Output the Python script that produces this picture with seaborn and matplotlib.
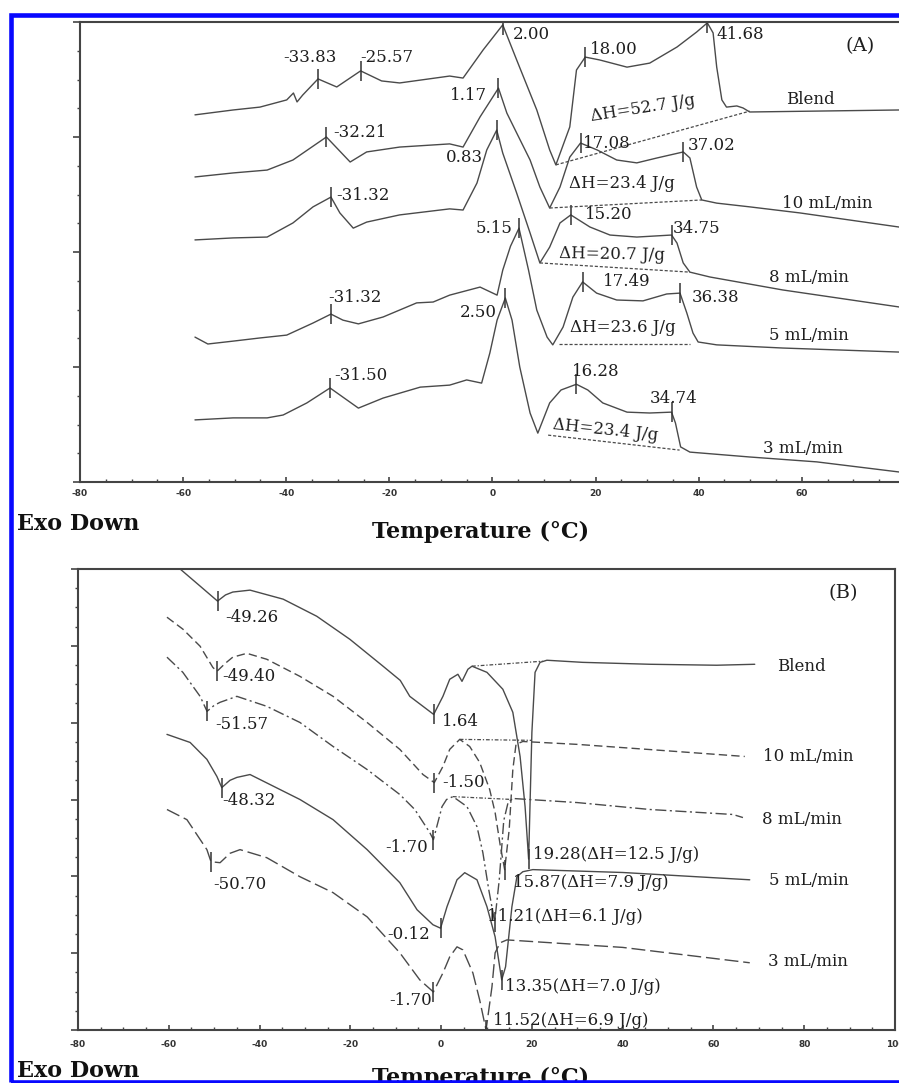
import numpy as np
import matplotlib
matplotlib.use("Agg")
import matplotlib.pyplot as plt
from matplotlib.patches import Rectangle
from matplotlib.ticker import MultipleLocator, FuncFormatter
import seaborn as sns

# ---------------- panel A : heating scans (heat flow, a.u., offset) ----------------
a_blend_t = [-57.7, -50.3, -45.1, -39.9, -38.6, -37.9, -36.8, -33.83, -30.2, -25.57, -21.5, -18.0,
             -8.3, -5.7, -1.8, 2.0, 4.7, 8.6, 11.1, 12.3, 15.0, 16.3, 18.0, 20.8, 26.1, 30.5, 35.8,
             39.6, 41.68, 42.8, 43.5, 44.5, 45.4, 47.4, 48.6, 49.9, 79.0, 100.0]
a_blend_v = [12.77, 12.94, 13.04, 13.29, 13.53, 13.22, 13.46, 14.02, 13.74, 14.30, 13.95, 13.88,
             14.12, 14.05, 15.03, 15.90, 14.68, 12.94, 11.55, 11.03, 12.35, 14.33, 14.78, 14.68, 14.43,
             14.57, 15.13, 15.65, 15.97, 15.62, 14.43, 13.29, 13.04, 13.08, 13.01, 12.87, 12.94, 12.94]

a_10_t = [-57.7, -50.3, -43.7, -38.7, -32.21, -27.6, -24.4, -18.0, -8.3, -5.7, -2.4, 1.17, 2.8, 4.7,
          7.3, 9.2, 11.1, 13.1, 15.0, 17.08, 20.3, 24.1, 28.0, 31.9, 37.02, 38.3, 39.6, 40.6, 43.5,
          49.9, 59.6, 78.8, 100.0]
a_10_v = [10.61, 10.75, 10.85, 11.20, 12.00, 11.13, 11.48, 11.65, 11.76, 11.65, 12.70, 13.70, 12.83,
          12.14, 11.20, 10.26, 9.53, 10.26, 11.30, 11.79, 11.55, 11.20, 11.10, 11.27, 11.48, 11.27,
          10.26, 9.81, 9.70, 9.57, 9.36, 8.87, 8.35]

a_8_t = [-57.7, -50.3, -43.7, -38.7, -34.8, -31.32, -29.6, -27.0, -24.4, -18.0, -8.3, -5.7, -3.0,
         -1.1, 0.83, 2.0, 4.7, 7.3, 9.2, 11.1, 13.1, 15.2, 18.9, 22.8, 28.0, 34.75, 35.8, 37.0, 38.3,
         42.2, 56.3, 78.8, 100.0]
a_8_v = [8.42, 8.49, 8.52, 9.01, 9.57, 9.91, 9.36, 8.83, 9.04, 9.29, 9.50, 9.46, 10.40, 11.55, 12.24,
         11.44, 10.05, 8.66, 7.62, 8.17, 9.01, 9.29, 8.87, 8.59, 8.52, 8.59, 8.31, 7.62, 7.30, 7.13,
         6.68, 6.09, 5.50]

a_5_t = [-57.7, -55.2, -50.3, -45.1, -39.9, -34.8, -31.32, -29.0, -26.0, -21.2, -14.7, -11.5, -8.3,
         -2.4, 0.9, 2.0, 3.5, 5.15, 7.0, 8.6, 10.6, 11.7, 13.7, 15.6, 17.49, 20.2, 24.1, 29.2, 33.8,
         36.38, 37.7, 38.9, 39.9, 43.5, 56.3, 78.8, 100.0]
a_5_v = [5.04, 4.80, 4.90, 5.01, 5.11, 5.53, 5.84, 5.63, 5.50, 5.74, 6.23, 6.26, 6.50, 6.78, 6.50,
         7.37, 8.20, 8.83, 7.37, 5.98, 5.04, 4.77, 5.39, 6.43, 6.96, 6.57, 6.33, 6.30, 6.54, 6.57,
         5.88, 5.18, 4.87, 4.77, 4.66, 4.52, 4.40]

a_3_t = [-57.7, -50.3, -43.7, -40.6, -36.0, -31.5, -26.0, -21.2, -14.0, -8.3, -5.0, -2.1, -0.5, 0.9,
         2.5, 3.8, 5.3, 7.3, 8.8, 11.1, 13.3, 16.28, 18.5, 21.4, 26.1, 30.5, 34.74, 35.5, 36.5, 38.3,
         49.9, 62.9, 78.8, 100.0]
a_3_v = [2.16, 2.23, 2.23, 2.33, 2.75, 3.27, 2.57, 2.92, 3.30, 3.37, 3.55, 3.44, 4.49, 5.63, 6.40,
         5.63, 4.00, 2.40, 1.70, 2.75, 3.20, 3.40, 3.20, 2.75, 2.43, 2.40, 2.43, 2.05, 1.22, 1.04,
         0.87, 0.70, 0.35, 0.02]

# integration baselines (start / end)
a_base_t0 = [12.3, 11.1, 9.2, 13.0, 10.8]
a_base_t1 = [49.9, 40.6, 38.3, 38.3, 36.3]
a_base_v0 = [11.03, 9.53, 7.62, 4.80, 1.63]
a_base_v1 = [12.90, 9.81, 7.30, 4.80, 1.11]

# peak temperatures marked on each curve
a_marks = [[-33.83, -25.57, 2.0, 18.0, 41.68], [-32.21, 1.17, 17.08, 37.02],
           [-31.32, 0.83, 15.2, 34.75], [-31.32, 5.15, 17.49, 36.38], [-31.5, 2.5, 16.28, 34.74]]

a_txt = ["-33.83", "-25.57", "2.00", "18.00", "41.68", "-32.21", "1.17", "17.08", "37.02",
         "-31.32", "0.83", "15.20", "34.75", "-31.32", "5.15", "17.49", "36.38",
         "-31.50", "2.50", "16.28", "34.74"]
a_txt_x = [-40.6, -25.7, 4.0, 18.9, 43.5, -30.9, -1.1, 17.5, 37.9, -30.2, -1.9, 17.9, 35.0,
           -31.9, 3.8, 21.4, 38.7, -30.6, 0.9, 15.4, 30.5]
a_txt_y = [14.78, 14.78, 15.55, 15.03, 15.58, 12.14, 13.43, 11.76, 11.69, 9.98, 11.27, 9.29, 8.83,
           6.43, 8.83, 6.96, 6.40, 3.72, 5.88, 3.83, 2.92]
a_txt_ha = ["left"] * 6 + ["right"] + ["left"] * 3 + ["right"] + ["left"] * 3 + ["right"] + \
           ["left"] * 3 + ["right"] + ["left"] * 2

a_dh = ["ΔH=52.7 J/g", "ΔH=23.4 J/g", "ΔH=20.7 J/g", "ΔH=23.6 J/g", "ΔH=23.4 J/g"]
a_dh_x = [29.2, 25.1, 23.2, 25.3, 22.0]
a_dh_y = [13.01, 10.37, 7.90, 5.39, 1.81]
a_dh_rot = [9, 0, -1, 0, -6]

a_names = ["Blend", "10 mL/min", "8 mL/min", "5 mL/min", "3 mL/min"]
a_name_x = [61.6, 65.0, 61.4, 61.4, 60.2]
a_name_y = [13.29, 9.67, 7.13, 5.08, 1.18]

# ---------------- panel B : cooling scans ----------------
b_blend_t = [-58.2, -57.5, -53.1, -49.26, -47.5, -45.9, -42.1, -34.8, -27.4, -20.1, -12.8, -9.0,
             -6.9, -1.64, 0.4, 1.9, 3.7, 4.6, 5.9, 6.8, 10.1, 13.6, 15.8, 17.4, 18.5, 19.28, 20.0,
             20.7, 21.8, 23.3, 31.2, 46.0, 60.7, 69.1]
b_blend_v = [24.4, 24.0, 23.11, 22.33, 22.65, 22.80, 22.90, 22.43, 21.54, 20.34, 18.94, 18.2, 17.37,
             16.43, 17.37, 18.26, 18.52, 18.15, 18.78, 18.94, 18.62, 17.74, 16.54, 14.24, 11.63, 8.90,
             15.49, 18.62, 19.14, 19.25, 19.14, 19.04, 18.99, 19.04]

b_10_t = [-60.4, -56.9, -53.1, -50.3, -49.4, -47.5, -45.9, -42.8, -38.4, -31.1, -23.8, -16.3, -9.1,
          -4.0, -1.5, 0.4, 1.9, 4.1, 6.3, 8.5, 10.7, 11.9, 13.0, 14.0, 15.0, 15.8, 16.5, 18.0, 30.0,
          46.0, 66.9]
b_10_v = [21.49, 20.87, 19.98, 18.88, 18.67, 19.10, 19.41, 19.61, 19.30, 18.41, 17.37, 16.01, 14.61,
          13.30, 12.88, 13.72, 14.61, 15.13, 14.76, 13.93, 12.52, 11.32, 9.65, 8.35, 10.43, 13.56,
          14.87, 15.02, 14.87, 14.60, 14.24]

b_8_t = [-60.4, -56.9, -53.1, -51.57, -50.0, -48.7, -45.0, -38.4, -31.1, -23.8, -16.3, -9.1, -5.8,
         -2.5, -1.7, 0.2, 1.2, 2.6, 5.7, 7.9, 9.2, 10.5, 11.8, 12.8, 13.8, 14.8, 16.0, 30.0, 46.0,
         64.3, 66.5]
b_8_v = [19.41, 18.62, 17.37, 16.59, 16.90, 17.06, 17.37, 16.85, 16.01, 14.76, 13.56, 12.26, 11.48,
         10.28, 9.91, 11.63, 12.00, 12.15, 11.63, 10.59, 9.23, 7.30, 5.63, 7.80, 10.90, 11.89, 12.05,
         11.84, 11.48, 11.22, 11.06]

b_5_t = [-60.4, -55.3, -51.6, -49.4, -48.32, -46.5, -45.0, -42.1, -31.1, -23.8, -16.3, -9.1, -5.3,
         -1.8, -0.12, 1.3, 3.5, 5.2, 7.9, 10.1, 11.9, 12.9, 13.35, 14.2, 15.6, 16.7, 18.0, 20.2,
         40.0, 68.0]
b_5_v = [15.39, 14.97, 14.09, 13.20, 12.62, 13.00, 13.15, 13.30, 12.00, 10.95, 9.39, 7.67, 6.26,
         5.48, 5.30, 6.42, 7.82, 8.19, 7.82, 6.42, 4.85, 3.29, 2.61, 3.29, 6.42, 7.98, 8.24, 8.35,
         8.20, 7.82]

b_3_t = [-60.4, -56.0, -51.6, -50.7, -48.7, -46.5, -44.3, -38.4, -31.1, -23.8, -16.3, -9.1, -4.7,
         -1.7, 0.4, 1.9, 3.5, 4.8, 7.0, 8.5, 9.9, 11.2, 11.9, 13.0, 14.5, 40.0, 68.0]
b_3_v = [11.48, 10.95, 9.39, 8.76, 8.71, 9.20, 9.39, 8.97, 7.98, 7.15, 5.89, 4.02, 2.61, 1.98, 2.97,
         3.81, 4.33, 4.17, 2.97, 1.56, 0.0, 2.24, 4.02, 4.54, 4.69, 4.30, 3.50]

b_base_t0 = [6.8, 4.1, 2.6]
b_base_t1 = [22.4, 20.0, 15.8]
b_base_v0 = [18.94, 15.13, 12.15]
b_base_v1 = [19.20, 15.08, 12.00]

b_marks = [[-49.26, -1.64, 19.28], [-49.4, -1.5, 14.0], [-51.57, -1.7, 11.8],
           [-48.32, -0.12, 13.35], [-50.7, -1.7, 9.9]]

b_txt = ["-49.26", "1.64", "-49.40", "-1.50", "-51.57", "-1.70", "-48.32", "-0.12", "-50.70", "-1.70",
         "19.28(ΔH=12.5 J/g)", "15.87(ΔH=7.9 J/g)", "11.21(ΔH=6.1 J/g)",
         "13.35(ΔH=7.0 J/g)", "11.52(ΔH=6.9 J/g)"]
b_txt_x = [-47.6, 0.2, -48.3, 0.2, -49.8, -2.9, -48.3, -2.5, -50.3, -2.0, 20.2, 15.8, 10.1, 14.05, 11.4]
b_txt_y = [21.49, 16.07, 18.41, 12.88, 15.91, 9.49, 11.95, 4.96, 7.56, 1.56, 9.13, 7.67, 5.89, 2.24, 0.52]
b_txt_ha = ["left", "left", "left", "left", "left", "right", "left", "right", "left", "right",
            "left", "left", "left", "left", "left"]

b_names = ["Blend", "10 mL/min", "8 mL/min", "5 mL/min", "3 mL/min"]
b_name_x = [79.3, 80.8, 79.5, 81.0, 80.8]
b_name_y = [18.94, 14.24, 10.95, 7.77, 3.55]

# ---------------- drawing ----------------
sns.set_style("ticks")
plt.rcParams["font.family"] = ["DejaVu Serif"]

LINE = "#4a4a4a"
INK = "#1e1e1e"
W, H = 899, 1083
fig = plt.figure(figsize=(W / 100, H / 100), dpi=100)
fig.patch.set_facecolor("white")

# panel A is wider than the figure: its right end is cropped like in the original
axA = fig.add_axes([80 / W, 1 - 482 / H, 928 / W, 460 / H])
axB = fig.add_axes([78 / W, 1 - 1030 / H, 817 / W, 461 / H])


def style_axis(ax, ymax, xpad, last_label):
    ax.set_xlim(-80, 100)
    ax.set_ylim(0, ymax)
    ax.xaxis.set_major_locator(MultipleLocator(20))
    ax.xaxis.set_minor_locator(MultipleLocator(5))
    ax.xaxis.set_major_formatter(FuncFormatter(lambda x, p: f"{x:.0f}" if x <= last_label else ""))
    ax.yaxis.set_major_locator(MultipleLocator(4))
    ax.yaxis.set_minor_locator(MultipleLocator(1))
    ax.set_yticklabels([])
    ax.tick_params(axis="x", which="major", direction="in", length=3.5, width=1.2,
                   colors="#444444", pad=xpad, labelsize=6.5)
    ax.tick_params(axis="x", which="minor", direction="in", length=2, width=1, colors="#444444")
    ax.tick_params(axis="y", which="major", direction="out", length=5, width=1.2, colors="#444444")
    ax.tick_params(axis="y", which="minor", direction="out", length=2.5, width=1, colors="#444444")
    for lab in ax.get_xticklabels():
        lab.set_fontfamily("DejaVu Sans")
        lab.set_fontweight("bold")
        lab.set_color("#333333")
    for s in ax.spines.values():
        s.set_linewidth(1.5)
        s.set_color("#444444")
    ax.set_xlabel("")
    ax.set_ylabel("")


# panel A curves
a_curves = [(a_blend_t, a_blend_v), (a_10_t, a_10_v), (a_8_t, a_8_v), (a_5_t, a_5_v), (a_3_t, a_3_v)]
for (t, v), marks in zip(a_curves, a_marks):
    sns.lineplot(x=t, y=v, ax=axA, color=LINE, linewidth=1.0, estimator=None, sort=False)
    axA.plot(marks, np.interp(marks, t, v), linestyle="none", marker="|", markersize=15,
             markeredgewidth=1.1, color="#333333")
for t0, t1, v0, v1 in zip(a_base_t0, a_base_t1, a_base_v0, a_base_v1):
    axA.plot([t0, t1], [v0, v1], color=LINE, linewidth=0.9, linestyle=(0, (2.5, 1.5)))
for s, x, y, ha in zip(a_txt, a_txt_x, a_txt_y, a_txt_ha):
    axA.text(x, y, s, ha=ha, va="center", fontsize=12, color=INK)
for s, x, y, r in zip(a_dh, a_dh_x, a_dh_y, a_dh_rot):
    axA.text(x, y, s, ha="center", va="center", fontsize=12, color=INK, rotation=r)
for s, x, y in zip(a_names, a_name_x, a_name_y):
    axA.text(x, y, s, ha="center", va="center", fontsize=12, color=INK)
axA.text(71.3, 15.17, "(A)", ha="center", va="center", fontsize=14, color=INK)
style_axis(axA, 16, 5, 80)
axA.spines["right"].set_visible(False)

# panel B curves
b_curves = [(b_blend_t, b_blend_v, "-"), (b_10_t, b_10_v, (0, (6, 3))),
            (b_8_t, b_8_v, (0, (8, 2.5, 1.5, 2.5))), (b_5_t, b_5_v, "-"),
            (b_3_t, b_3_v, (0, (10, 3.5)))]
for (t, v, ls), marks in zip(b_curves, b_marks):
    sns.lineplot(x=t, y=v, ax=axB, color=LINE, linewidth=1.0, linestyle=ls,
                 estimator=None, sort=False)
    axB.plot(marks, np.interp(marks, t, v), linestyle="none", marker="|", markersize=15,
             markeredgewidth=1.1, color="#333333")
for t0, t1, v0, v1 in zip(b_base_t0, b_base_t1, b_base_v0, b_base_v1):
    axB.plot([t0, t1], [v0, v1], color=LINE, linewidth=0.9, linestyle=(0, (3, 1.5, 1, 1.5)))
for s, x, y, ha in zip(b_txt, b_txt_x, b_txt_y, b_txt_ha):
    axB.text(x, y, s, ha=ha, va="center", fontsize=12, color=INK)
for s, x, y in zip(b_names, b_name_x, b_name_y):
    axB.text(x, y, s, ha="center", va="center", fontsize=12, color=INK)
axB.text(88.5, 22.74, "(B)", ha="center", va="center", fontsize=14, color=INK)
style_axis(axB, 24, 7, 100)

# axis captions
for yb in (1 - 530 / H, 1 - 1077 / H):
    fig.text(17 / W, yb, "Exo Down", ha="left", va="baseline", fontsize=16,
             fontweight="bold", color="#111111")
for yb in (1 - 538 / H, 1 - 1084 / H):
    fig.text(481 / W, yb, "Temperature (°C)", ha="center", va="baseline", fontsize=16,
             fontweight="bold", color="#111111")

# blue frame around the figure
fig.patches.append(Rectangle((10.5 / W, 1 - 1081.5 / H), 1.05, (1081.5 - 15) / H,
                             transform=fig.transFigure, fill=False, edgecolor="#0808ff",
                             linewidth=3.3, zorder=10))

fig.savefig("out.png", dpi=100)
